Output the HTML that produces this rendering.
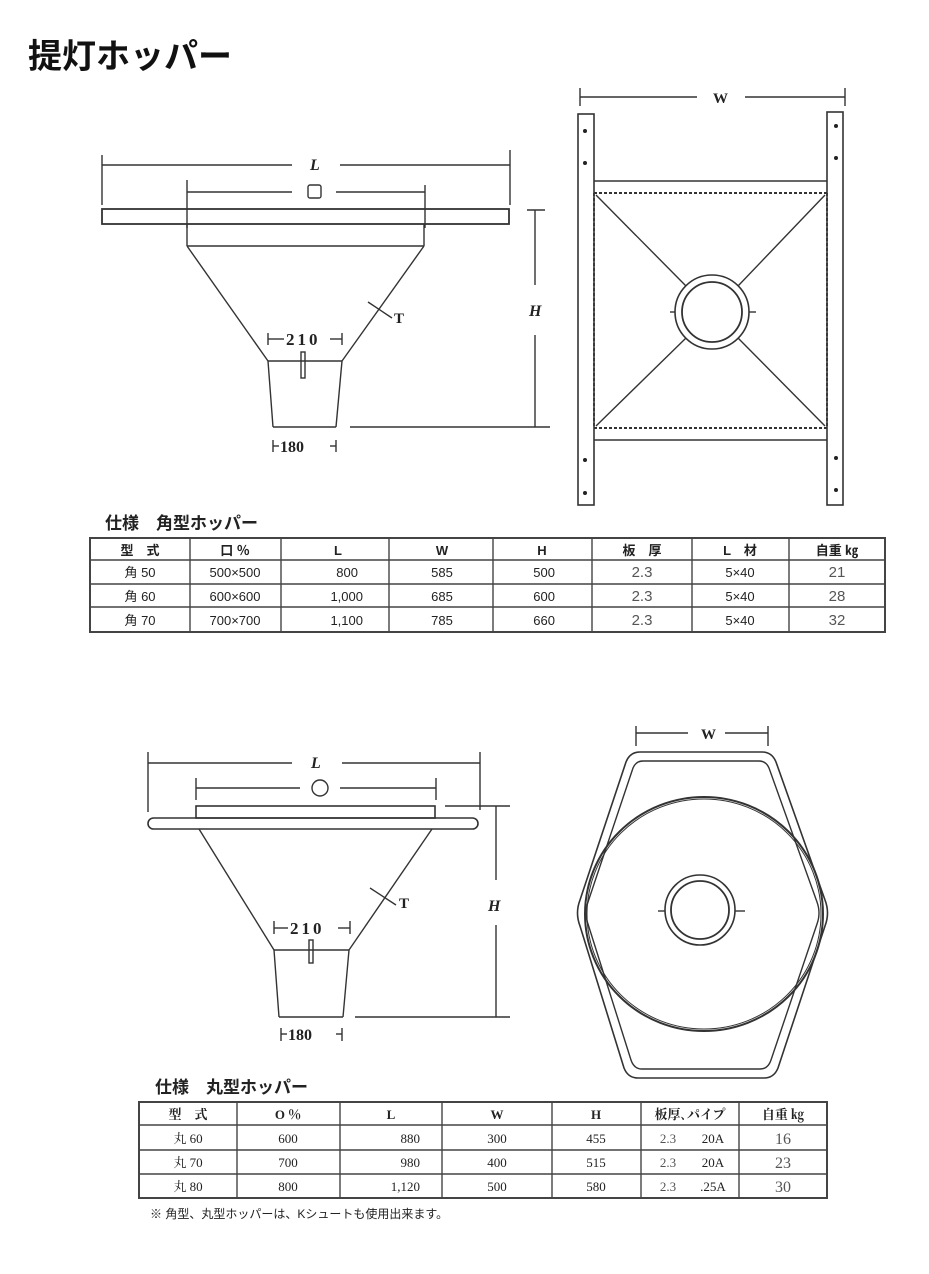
<!DOCTYPE html>
<html><head><meta charset="utf-8"><style>
html,body{margin:0;padding:0;background:#fff;}
body{width:929px;height:1274px;position:relative;overflow:hidden;font-family:"Liberation Serif","Noto Serif CJK SC",serif;}
svg{position:absolute;left:0;top:0;}
</style></head><body>
<svg width="929" height="1274" viewBox="0 0 929 1274" xmlns="http://www.w3.org/2000/svg" fill="none" stroke="#333" stroke-width="1.4">
<text x="28" y="68" font-family="Liberation Sans,Noto Sans CJK JP,sans-serif" font-size="34" font-weight="bold" fill="#111" stroke="none">提灯ホッパー</text>

<!-- top-left square hopper -->
<g>
<line x1="102" y1="165" x2="292" y2="165"/><line x1="340" y1="165" x2="510" y2="165"/>
<line x1="102" y1="155" x2="102" y2="205"/><line x1="510" y1="150" x2="510" y2="205"/>
<text x="310" y="170" font-size="16" font-weight="bold" fill="#222" stroke="none" font-style="italic">L</text>
<line x1="187" y1="192" x2="292" y2="192"/><line x1="336" y1="192" x2="425" y2="192"/>
<line x1="187" y1="180" x2="187" y2="228"/><line x1="425" y1="185" x2="425" y2="228"/>
<rect x="308" y="185" width="13" height="13" rx="2"/>
<rect x="102" y="209" width="407" height="15" stroke-width="1.8"/>
<line x1="187" y1="224" x2="187" y2="246"/><line x1="424" y1="224" x2="424" y2="246"/>
<line x1="187" y1="246" x2="424" y2="246"/>
<line x1="187" y1="246" x2="268" y2="361"/><line x1="424" y1="246" x2="342" y2="361"/>
<line x1="268" y1="361" x2="342" y2="361"/>
<line x1="268" y1="361" x2="273" y2="427"/><line x1="342" y1="361" x2="336" y2="427"/>
<line x1="273" y1="427" x2="336" y2="427"/>
<rect x="301" y="352" width="4" height="26"/>
<line x1="368" y1="302" x2="392" y2="318"/>
<text x="394" y="323" font-size="15" font-weight="bold" fill="#222" stroke="none">T</text>
<line x1="268" y1="333" x2="268" y2="345"/><line x1="268" y1="339" x2="284" y2="339"/>
<line x1="342" y1="333" x2="342" y2="345"/><line x1="330" y1="339" x2="342" y2="339"/>
<text x="286" y="345" font-size="17" font-weight="bold" fill="#222" stroke="none" letter-spacing="3">210</text>
<line x1="273" y1="440" x2="273" y2="452"/><line x1="273" y1="446" x2="279" y2="446"/>
<line x1="336" y1="440" x2="336" y2="452"/><line x1="330" y1="446" x2="336" y2="446"/>
<text x="280" y="452" font-size="16" font-weight="bold" fill="#222" stroke="none">180</text>
<line x1="527" y1="210" x2="545" y2="210"/>
<line x1="535" y1="210" x2="535" y2="285"/><line x1="535" y1="335" x2="535" y2="427"/>
<line x1="350" y1="427" x2="550" y2="427"/>
<text x="529" y="316" font-size="16" font-weight="bold" fill="#222" stroke="none" font-style="italic">H</text>
</g>

<!-- top-right frame view -->
<g>
<line x1="580" y1="97" x2="697" y2="97"/><line x1="745" y1="97" x2="845" y2="97"/>
<line x1="580" y1="88" x2="580" y2="106"/><line x1="845" y1="88" x2="845" y2="106"/>
<text x="713" y="103" font-size="15" font-weight="bold" fill="#222" stroke="none">W</text>
<rect x="578" y="114" width="16" height="391" stroke-width="1.6"/>
<rect x="827" y="112" width="16" height="393" stroke-width="1.6"/>
<line x1="594" y1="181" x2="827" y2="181"/>
<line x1="594" y1="193" x2="827" y2="193" stroke-dasharray="3,2" stroke-width="2"/>
<line x1="594" y1="428" x2="827" y2="428" stroke-dasharray="3,2" stroke-width="2"/>
<line x1="594" y1="440" x2="827" y2="440"/>
<line x1="594" y1="193" x2="594" y2="428" stroke-dasharray="3,2" stroke-width="1.8"/>
<line x1="827" y1="193" x2="827" y2="428" stroke-dasharray="3,2" stroke-width="1.8"/>
<line x1="596" y1="195" x2="686" y2="286"/><line x1="825" y1="195" x2="738" y2="286"/>
<line x1="596" y1="426" x2="686" y2="338"/><line x1="825" y1="426" x2="738" y2="338"/>
<circle cx="712" cy="312" r="37" stroke-width="1.6"/><circle cx="712" cy="312" r="30" stroke-width="1.8"/>
<line x1="670" y1="312" x2="675" y2="312"/><line x1="749" y1="312" x2="756" y2="312"/>
<g fill="#222" stroke="none">
<circle cx="585" cy="131" r="2"/><circle cx="585" cy="163" r="2"/><circle cx="585" cy="460" r="2"/><circle cx="585" cy="493" r="2"/>
<circle cx="836" cy="126" r="2"/><circle cx="836" cy="158" r="2"/><circle cx="836" cy="458" r="2"/><circle cx="836" cy="490" r="2"/>
</g>
</g>

<!-- table 1 -->
<text x="105" y="529" font-family="Liberation Sans,Noto Sans CJK JP,sans-serif" font-size="17" font-weight="bold" fill="#222" stroke="none">仕様　角型ホッパー</text>
<g stroke="#444" stroke-width="1.4">
<rect x="90" y="538" width="795" height="94" stroke-width="2"/>
<line x1="90" y1="560" x2="885" y2="560"/><line x1="90" y1="584" x2="885" y2="584"/><line x1="90" y1="607" x2="885" y2="607"/>
<line x1="190" y1="538" x2="190" y2="632"/><line x1="281" y1="538" x2="281" y2="632"/><line x1="389" y1="538" x2="389" y2="632"/>
<line x1="493" y1="538" x2="493" y2="632"/><line x1="592" y1="538" x2="592" y2="632"/><line x1="692" y1="538" x2="692" y2="632"/><line x1="789" y1="538" x2="789" y2="632"/>
</g>
<g font-family="Liberation Sans,Noto Sans CJK JP,sans-serif" font-size="13" fill="#222" stroke="none" text-anchor="middle">
<text x="140" y="555" font-weight="bold">型　式</text><text x="235" y="555" font-weight="bold">口 ％</text><text x="338" y="555" font-weight="bold">L</text><text x="442" y="555" font-weight="bold">W</text><text x="542" y="555" font-weight="bold">H</text><text x="642" y="555" font-weight="bold">板　厚</text><text x="740" y="555" font-weight="bold">L　材</text><text x="837" y="555" font-weight="bold">自重 ㎏</text>
<text x="140" y="577">角 50</text><text x="235" y="577">500×500</text><text x="358" y="577" text-anchor="end">800</text><text x="442" y="577">585</text><text x="555" y="577" text-anchor="end">500</text><text x="642" y="577" font-size="15" fill="#555">2.3</text><text x="740" y="577">5×40</text><text x="837" y="577" font-size="15" fill="#555">21</text>
<text x="140" y="601">角 60</text><text x="235" y="601">600×600</text><text x="363" y="601" text-anchor="end">1,000</text><text x="442" y="601">685</text><text x="555" y="601" text-anchor="end">600</text><text x="642" y="601" font-size="15" fill="#555">2.3</text><text x="740" y="601">5×40</text><text x="837" y="601" font-size="15" fill="#555">28</text>
<text x="140" y="625">角 70</text><text x="235" y="625">700×700</text><text x="363" y="625" text-anchor="end">1,100</text><text x="442" y="625">785</text><text x="555" y="625" text-anchor="end">660</text><text x="642" y="625" font-size="15" fill="#555">2.3</text><text x="740" y="625">5×40</text><text x="837" y="625" font-size="15" fill="#555">32</text>
</g>

<!-- bottom-left round hopper -->
<g>
<line x1="148" y1="763" x2="292" y2="763"/><line x1="342" y1="763" x2="480" y2="763"/>
<line x1="148" y1="752" x2="148" y2="812"/><line x1="480" y1="752" x2="480" y2="810"/>
<text x="311" y="768" font-size="16" font-weight="bold" fill="#222" stroke="none" font-style="italic">L</text>
<line x1="196" y1="788" x2="300" y2="788"/><line x1="340" y1="788" x2="436" y2="788"/>
<line x1="196" y1="778" x2="196" y2="800"/><line x1="436" y1="778" x2="436" y2="800"/>
<circle cx="320" cy="788" r="8"/>
<rect x="196" y="806" width="239" height="12" stroke-width="1.6"/>
<rect x="148" y="818" width="330" height="11" rx="5.5" stroke-width="1.6"/>
<line x1="199" y1="829" x2="274" y2="950"/><line x1="432" y1="829" x2="349" y2="950"/>
<line x1="274" y1="950" x2="349" y2="950"/>
<line x1="274" y1="950" x2="279" y2="1017"/><line x1="349" y1="950" x2="343" y2="1017"/>
<line x1="279" y1="1017" x2="343" y2="1017"/>
<rect x="309" y="940" width="4" height="23"/>
<line x1="370" y1="888" x2="396" y2="905"/>
<text x="399" y="908" font-size="15" font-weight="bold" fill="#222" stroke="none">T</text>
<line x1="274" y1="921" x2="274" y2="934"/><line x1="274" y1="928" x2="288" y2="928"/>
<line x1="350" y1="921" x2="350" y2="934"/><line x1="338" y1="928" x2="350" y2="928"/>
<text x="290" y="934" font-size="17" font-weight="bold" fill="#222" stroke="none" letter-spacing="3">210</text>
<line x1="281" y1="1028" x2="281" y2="1041"/><line x1="281" y1="1034" x2="287" y2="1034"/>
<line x1="342" y1="1028" x2="342" y2="1041"/><line x1="336" y1="1034" x2="342" y2="1034"/>
<text x="288" y="1040" font-size="16" font-weight="bold" fill="#222" stroke="none">180</text>
<line x1="445" y1="806" x2="510" y2="806"/>
<line x1="496" y1="806" x2="496" y2="880"/><line x1="496" y1="925" x2="496" y2="1017"/>
<line x1="355" y1="1017" x2="510" y2="1017"/>
<text x="488" y="911" font-size="16" font-weight="bold" fill="#222" stroke="none" font-style="italic">H</text>
</g>

<!-- bottom-right round top view -->
<g>
<line x1="636" y1="733" x2="688" y2="733"/><line x1="725" y1="733" x2="768" y2="733"/>
<line x1="636" y1="726" x2="636" y2="746"/><line x1="768" y1="726" x2="768" y2="746"/>
<text x="701" y="739" font-size="15" font-weight="bold" fill="#222" stroke="none">W</text>
<path d="M640 752 L762 752 Q772 752 776 762 L825 900 Q830 913 825 926 L778 1068 Q774 1078 764 1078 L638 1078 Q628 1078 624 1068 L580 926 Q575 913 580 900 L626 762 Q630 752 640 752 Z" stroke-width="1.6"/>
<path d="M643 761 L759 761 Q766 761 769 768 L817 902 Q821 913 817 924 L771 1060 Q768 1069 760 1069 L642 1069 Q634 1069 631 1060 L588 924 Q584 913 588 902 L633 768 Q636 761 643 761 Z" stroke-width="1.4"/>
<ellipse cx="704" cy="914" rx="119" ry="117" stroke-width="2"/>
<ellipse cx="704" cy="914" rx="117" ry="115" stroke-width="1"/>
<circle cx="700" cy="910" r="35" stroke-width="1.6"/><circle cx="700" cy="910" r="29" stroke-width="1.8"/>
<line x1="658" y1="911" x2="665" y2="911"/><line x1="735" y1="911" x2="745" y2="911"/>
</g>

<!-- table 2 -->
<text x="155" y="1093" font-family="Liberation Sans,Noto Sans CJK JP,sans-serif" font-size="17" font-weight="bold" fill="#222" stroke="none">仕様　丸型ホッパー</text>
<g stroke="#444" stroke-width="1.4">
<rect x="139" y="1102" width="688" height="96" stroke-width="2"/>
<line x1="139" y1="1125" x2="827" y2="1125"/><line x1="139" y1="1150" x2="827" y2="1150"/><line x1="139" y1="1174" x2="827" y2="1174"/>
<line x1="237" y1="1102" x2="237" y2="1198"/><line x1="340" y1="1102" x2="340" y2="1198"/><line x1="442" y1="1102" x2="442" y2="1198"/>
<line x1="552" y1="1102" x2="552" y2="1198"/><line x1="641" y1="1102" x2="641" y2="1198"/><line x1="739" y1="1102" x2="739" y2="1198"/>
</g>
<g font-family="Liberation Serif,Noto Serif CJK SC,serif" font-size="13" fill="#222" stroke="none" text-anchor="middle">
<text x="188" y="1119" font-weight="bold">型　式</text><text x="288" y="1119" font-weight="bold">O ％</text><text x="391" y="1119" font-weight="bold">L</text><text x="497" y="1119" font-weight="bold">W</text><text x="596" y="1119" font-weight="bold">H</text><text x="690" y="1119" font-weight="bold">板厚､パイプ</text><text x="783" y="1119" font-weight="bold">自重 ㎏</text>
<text x="188" y="1143">丸 60</text><text x="288" y="1143">600</text><text x="420" y="1143" text-anchor="end">880</text><text x="497" y="1143">300</text><text x="596" y="1143">455</text><text x="668" y="1143" fill="#555">2.3</text><text x="713" y="1143">20A</text><text x="783" y="1144" font-size="16" fill="#555">16</text>
<text x="188" y="1167">丸 70</text><text x="288" y="1167">700</text><text x="420" y="1167" text-anchor="end">980</text><text x="497" y="1167">400</text><text x="596" y="1167">515</text><text x="668" y="1167" fill="#555">2.3</text><text x="713" y="1167">20A</text><text x="783" y="1168" font-size="16" fill="#555">23</text>
<text x="188" y="1191">丸 80</text><text x="288" y="1191">800</text><text x="420" y="1191" text-anchor="end">1,120</text><text x="497" y="1191">500</text><text x="596" y="1191">580</text><text x="668" y="1191" fill="#555">2.3</text><text x="713" y="1191">.25A</text><text x="783" y="1192" font-size="16" fill="#555">30</text>
</g>
<text x="150" y="1218" font-family="Liberation Sans,Noto Sans CJK JP,sans-serif" font-size="12" fill="#222" stroke="none">※ 角型、丸型ホッパーは、Kシュートも使用出来ます。</text>
</svg>
</body></html>
